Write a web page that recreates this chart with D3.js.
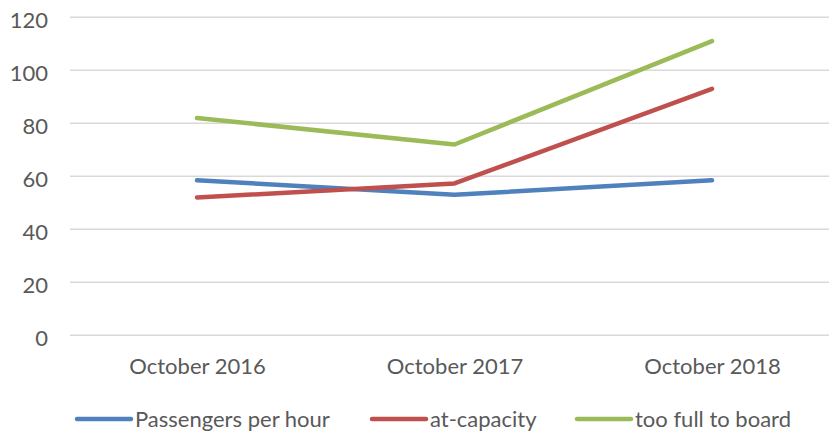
<!DOCTYPE html>
<html>
<head>
<meta charset="utf-8">
<script src="https://cdn.jsdelivr.net/npm/d3@7"></script>
<style>
  body { margin: 0; background: #fff; }
  text { font-family: Lato, "Liberation Sans", Arial, sans-serif; fill: #595959; }
</style>
</head>
<body>
<script>
// Width and height
var w = 829;
var h = 434;

var categories = ["October 2016", "October 2017", "October 2018"];
var seriesNames = ["Passengers per hour", "at-capacity", "too full to board"];
var passengers = [58.5, 53, 58.5];
var atCapacity = [52, 57.3, 93];
var tooFull = [82, 72, 111];
var yTicks = [0, 20, 40, 60, 80, 100, 120];
var colors = ["#4F81BD", "#C0504D", "#9BBB59"];

var series = [passengers, atCapacity, tooFull];

var xScale = d3.scalePoint()
    .domain(categories)
    .range([197, 712]);

var yScale = d3.scaleLinear()
    .domain([0, 120])
    .range([335.3, 17.3]);

var svg = d3.select("body")
    .append("svg")
    .attr("width", w)
    .attr("height", h);

// gridlines
svg.selectAll("line.grid")
    .data(yTicks)
    .enter()
    .append("line")
    .attr("class", "grid")
    .attr("x1", 70)
    .attr("x2", w)
    .attr("y1", d => yScale(d))
    .attr("y2", d => yScale(d))
    .attr("stroke", "#d9d9d9")
    .attr("stroke-width", 1.5);

// y axis labels
var yAxis = d3.axisLeft(yScale)
    .tickValues(yTicks)
    .tickSize(0)
    .tickPadding(0);

svg.append("g")
    .attr("transform", "translate(48,0)")
    .call(yAxis)
    .call(g => g.select(".domain").remove())
    .selectAll("text")
    .attr("dy", "0.45em")
    .attr("font-size", "22px")
    .attr("font-family", "Lato, Liberation Sans, Arial, sans-serif")
    .attr("fill", "#595959");

// x axis labels
var xAxis = d3.axisBottom(xScale)
    .tickSize(0)
    .tickPadding(0);

svg.append("g")
    .attr("transform", "translate(0,374)")
    .call(xAxis)
    .call(g => g.select(".domain").remove())
    .selectAll("text")
    .attr("dy", null)
    .attr("y", 0)
    .attr("font-size", "22px")
    .attr("font-family", "Lato, Liberation Sans, Arial, sans-serif")
    .attr("fill", "#595959");

// lines
var line = d3.line()
    .x((d, i) => xScale(categories[i]))
    .y(d => yScale(d));

svg.selectAll("path.series")
    .data(series)
    .enter()
    .append("path")
    .attr("class", "series")
    .attr("d", line)
    .attr("fill", "none")
    .attr("stroke", (d, i) => colors[i])
    .attr("stroke-width", 4.5)
    .attr("stroke-linecap", "round")
    .attr("stroke-linejoin", "round");

// legend
var legendX = [77, 372, 577];
var legend = svg.selectAll("g.legend")
    .data(seriesNames)
    .enter()
    .append("g")
    .attr("class", "legend")
    .attr("transform", (d, i) => "translate(" + legendX[i] + ",419)");

legend.append("line")
    .attr("x1", 0)
    .attr("x2", 54)
    .attr("stroke", (d, i) => colors[i])
    .attr("stroke-width", 4.5)
    .attr("stroke-linecap", "round");

legend.append("text")
    .attr("x", 58)
    .attr("y", 8)
    .attr("font-size", "22px")
    .text(d => d);
</script>
</body>
</html>
